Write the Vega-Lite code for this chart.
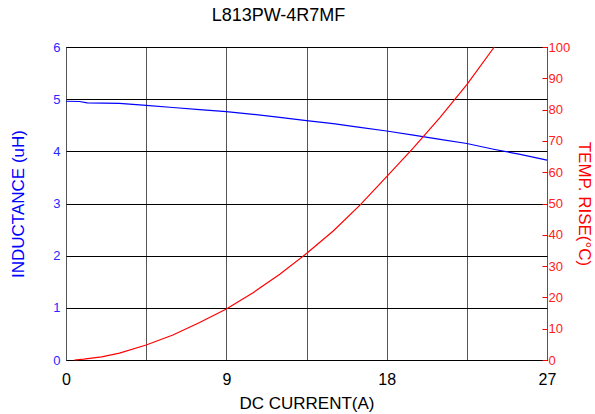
{
  "$schema": "https://vega.github.io/schema/vega-lite/v6.json",
  "width": 481,
  "height": 313,
  "autosize": {"type": "none"},
  "padding": {"left": 66, "top": 47, "right": 48, "bottom": 54},
  "config": {
    "font": "Liberation Sans",
    "view": {"stroke": "black", "strokeWidth": 1}
  },
  "title": {
    "text": "L813PW-4R7MF",
    "fontSize": 18,
    "fontWeight": "normal",
    "color": "black",
    "offset": 16,
    "dx": -28
  },
  "datasets": {
    "ind": [
      {"x": 0, "L": 4.96},
      {"x": 0.75, "L": 4.955},
      {"x": 1.2, "L": 4.93},
      {"x": 3.0, "L": 4.92},
      {"x": 4.5, "L": 4.88},
      {"x": 6.0, "L": 4.84},
      {"x": 7.5, "L": 4.8},
      {"x": 9.0, "L": 4.76},
      {"x": 10.5, "L": 4.71},
      {"x": 12.0, "L": 4.65},
      {"x": 13.5, "L": 4.59},
      {"x": 15.0, "L": 4.53},
      {"x": 16.5, "L": 4.46},
      {"x": 18.0, "L": 4.39},
      {"x": 19.5, "L": 4.31},
      {"x": 21.0, "L": 4.23},
      {"x": 22.5, "L": 4.15},
      {"x": 24.0, "L": 4.04},
      {"x": 25.5, "L": 3.94},
      {"x": 27.0, "L": 3.83}
    ],
    "temp": [
      {"x": 0.47, "T": 0},
      {"x": 1.0, "T": 0.3},
      {"x": 2.0, "T": 1.0},
      {"x": 3.0, "T": 2.2},
      {"x": 4.5, "T": 4.8},
      {"x": 6.0, "T": 8.0},
      {"x": 7.5, "T": 12.0},
      {"x": 9.0, "T": 16.3},
      {"x": 10.5, "T": 21.5},
      {"x": 12.0, "T": 27.4},
      {"x": 13.5, "T": 34.0},
      {"x": 15.0, "T": 41.2},
      {"x": 16.5, "T": 49.5},
      {"x": 18.0, "T": 58.6},
      {"x": 19.5, "T": 67.8},
      {"x": 21.0, "T": 77.5},
      {"x": 22.5, "T": 88.0},
      {"x": 24.04, "T": 100}
    ]
  },
  "layer": [
    {
      "data": {"name": "ind"},
      "mark": {"type": "line", "color": "#0000ff", "strokeWidth": 1.2},
      "encoding": {
        "x": {
          "field": "x",
          "type": "quantitative",
          "scale": {"domain": [0, 27], "nice": false, "zero": false},
          "axis": {
            "values": [0, 4.5, 9, 13.5, 18, 22.5, 27],
            "labelExpr": "datum.value % 9 === 0 ? datum.label : ''",
            "title": "DC CURRENT(A)",
            "grid": true,
            "gridColor": "#555555",
            "gridOpacity": 1,
            "gridWidth": 1,
            "ticks": false,
            "domain": false,
            "labelFlush": false,
            "labelColor": "black",
            "labelFontSize": 16,
            "labelPadding": 11,
            "titleColor": "black",
            "titleFontSize": 17,
            "titleFontWeight": "normal",
            "titlePadding": 8
          }
        },
        "y": {
          "field": "L",
          "type": "quantitative",
          "scale": {"domain": [0, 6], "nice": false},
          "axis": {
            "orient": "left",
            "values": [0, 1, 2, 3, 4, 5, 6],
            "title": "INDUCTANCE (uH)",
            "grid": true,
            "gridColor": "black",
            "gridOpacity": 1,
            "gridWidth": 1,
            "ticks": false,
            "domain": false,
            "labelColor": "#2828ff",
            "labelFontSize": 13,
            "labelPadding": 6,
            "titleColor": "#0000ff",
            "titleFontSize": 17,
            "titleFontWeight": "normal",
            "titlePadding": 25
          }
        }
      }
    },
    {
      "data": {"name": "temp"},
      "mark": {"type": "line", "color": "#ff0000", "strokeWidth": 1.2},
      "encoding": {
        "x": {"field": "x", "type": "quantitative"},
        "y": {
          "field": "T",
          "type": "quantitative",
          "scale": {"domain": [0, 100], "nice": false},
          "axis": {
            "orient": "right",
            "values": [0, 10, 20, 30, 40, 50, 60, 70, 80, 90, 100],
            "title": "TEMP. RISE(°C)",
            "grid": false,
            "ticks": true,
            "tickColor": "#ff0000",
            "tickSize": -5,
            "domain": false,
            "labelColor": "#ff2020",
            "labelFontSize": 13,
            "labelPadding": 6,
            "titleColor": "#ff0000",
            "titleFontSize": 17,
            "titleFontWeight": "normal",
            "titlePadding": 5
          }
        }
      }
    }
  ],
  "resolve": {"scale": {"y": "independent"}}
}
